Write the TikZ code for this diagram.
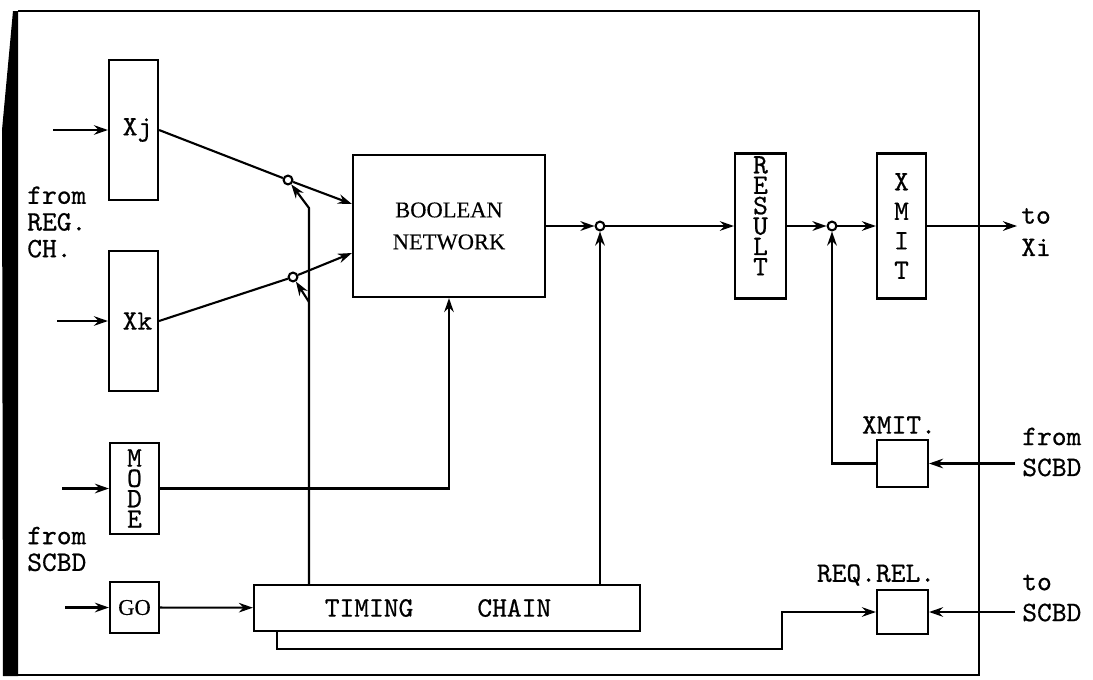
\documentclass[tikz,border=0pt]{standalone}
\usepackage{fontspec}
\setmainfont{Liberation Serif}[FakeBold=0.3]
\newfontfamily\monofont{lmmono10-regular.otf}[FakeBold=0.6]
\usetikzlibrary{arrows.meta, positioning, calc}

\begin{document}
\begin{tikzpicture}[
        x=0.025cm, y=-0.025cm,
        box/.style={draw, line width=1.5pt, inner sep=0pt, align=center},
        tty/.style={font=\monofont\fontsize{20}{19}\selectfont},
        vtext/.style={font=\monofont\fontsize{20}{14.5}\selectfont},
        serif/.style={font=\fontsize{16}{22.7}\selectfont},
        lbl/.style={tty, align=left, anchor=west, inner sep=0pt},
        jct/.style={draw, circle, line width=1.5pt, inner sep=0pt, minimum size=0.22cm},
        wire/.style={line width=1.5pt},
        arrow/.style={-{Stealth[length=3.5mm, width=2.4mm]}, line width=1.5pt}
    ]
    \useasboundingbox (0,0) rectangle (1093,679);

    % frame, heavy on the left
    \fill (13,11) -- (18,11) -- (18,676) -- (3,676) -- (2,130) -- cycle;
    \draw[line width=1.8pt] (18,11) -- (979,11) -- (979,675) -- (18,675);

    % Left column: operand registers, mode, go
    \node[box, tty, minimum width=1.225cm, minimum height=3.5cm] (xj) at (133.5,130) {\hspace*{0.2cm}Xj};
    \node[box, tty, minimum width=1.225cm, minimum height=3.5cm] (xk) at (133.5,321) {\hspace*{0.2cm}Xk};
    \node[box, vtext, minimum width=1.225cm, minimum height=2.275cm] (mode) at (134.5,488.5) {M\\O\\D\\E};
    \node[box, serif, minimum width=1.225cm, minimum height=1.275cm] (go) at (134.5,607.5) {GO};

    \node[lbl] (regch) at (27,222) {from\\REG.\\CH.};
    \node[lbl] (scbdl) at (27,549) {from\\SCBD};

    % Middle: network and timing chain
    \node[box, serif, minimum width=4.8cm, minimum height=3.55cm] (bool) at (449,226) {BOOLEAN\\NETWORK};
    \node[box, tty, minimum width=9.65cm, minimum height=1.15cm] (timing) at (447,608) {TIMING\hspace{1.6cm}CHAIN\hspace*{0.45cm}};

    % Right: result and transmit
    \node[box, vtext, minimum width=1.275cm, minimum height=3.625cm] (result) at (760.5,226) {R\\E\\S\\U\\L\\T\\[0pt]\mbox{}};
    \node[box, font=\monofont\fontsize{20}{21}\selectfont, minimum width=1.225cm, minimum height=3.625cm] (xmit) at (901.5,226) {X\\M\\I\\T};
    \node[box, minimum width=1.275cm, minimum height=1.175cm] (xmitc) at (902.5,463.5) {};
    \node[box, minimum width=1.275cm, minimum height=1.1cm] (reqrel) at (902.5,612) {};
    \node[tty, inner sep=0pt] (xmitlbl) at (899,425) {XMIT.};
    \node[tty, inner sep=0pt] (reqlbl) at (876,575) {REQ.REL.};

    \node[lbl, font=\monofont\fontsize{20}{23}\selectfont] (toxi) at (1021,232) {to\\Xi};
    \node[lbl, font=\monofont\fontsize{20}{22}\selectfont] (scbdx) at (1022,452) {from\\SCBD};
    \node[lbl, font=\monofont\fontsize{20}{22}\selectfont] (scbdr) at (1022,598) {to\\SCBD};

    % gating points
    \node[jct] (j1) at (288,180) {};
    \node[jct] (j2) at (293,277) {};
    \node[jct] (j3) at (600,226) {};
    \node[jct] (j4) at (832,226) {};

    % free ends
    \coordinate (inxj) at (53,130);
    \coordinate (inxk) at (57,321);
    \coordinate (inmode) at (62,488.5);
    \coordinate (ingo) at (65,607.5);
    \coordinate (c1) at (309,208);
    \coordinate (c2) at (309,302);
    \coordinate (outxi) at (1017,226);
    \coordinate (inxm) at (1015,463.5);
    \coordinate (inrr) at (1015,612);
    \coordinate (step) at (782,649);

    % inputs
    \draw[arrow] (inxj) -- (xj);
    \draw[arrow] (inxk) -- (xk);
    \draw[arrow] (inmode) -- (mode);
    \draw[arrow] (ingo) -- (go);

    % operands through the gates into the network
    \draw[wire] (xj.east) -- (j1);
    \draw[arrow] (j1) -- ($(bool.west)+(0,-22)$);
    \draw[wire] (xk.east) -- (j2);
    \draw[arrow] (j2) -- ($(bool.west)+(0,27)$);
    \draw[arrow] (c1 |- timing.north) -- (c1) -- (j1);
    \draw[arrow] (c2) -- (j2);
    \draw[arrow] (mode.east) -| (bool.south);
    \draw[arrow] (go) -- (timing);

    % result path
    \draw[arrow] (bool) -- (j3);
    \draw[arrow] (j3 |- timing.north) -- (j3);
    \draw[arrow] (j3) -- (result);
    \draw[arrow] (result) -- (j4);
    \draw[arrow] (j4) -- (xmit);
    \draw[arrow] (xmit) -- (outxi);
    \draw[arrow] (xmitc) -| (j4);
    \draw[arrow] (inxm) -- (xmitc);

    % request / release
    \draw[arrow] ($(timing.south west)+(24,0)$) |- (step) |- (reqrel);
    \draw[arrow] (inrr) -- (reqrel);
\end{tikzpicture}
\end{document}
